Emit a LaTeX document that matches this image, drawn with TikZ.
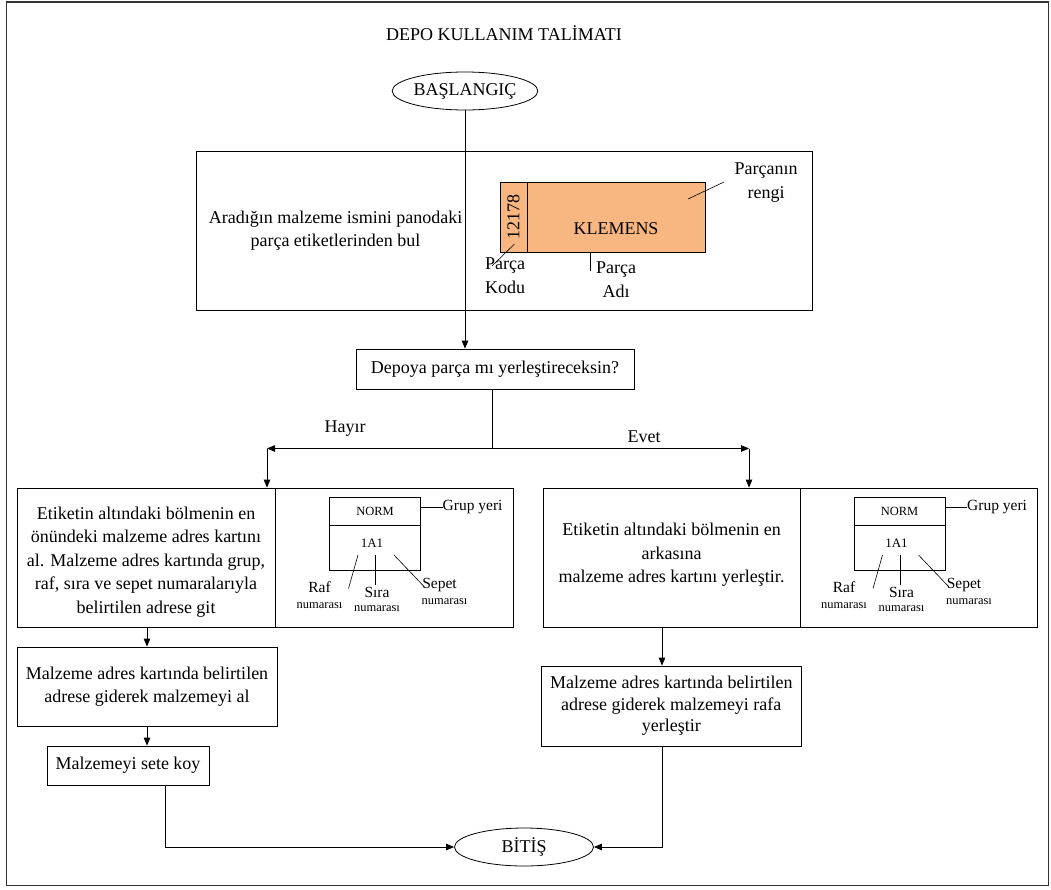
\documentclass[tikz,border=0pt]{standalone}
\usepackage{fontspec}
\setmainfont{Liberation Serif}
\usetikzlibrary{arrows.meta,shapes.geometric,calc}
\definecolor{labelorange}{RGB}{248,182,128}
\begin{document}
\begin{tikzpicture}[x=1pt,y=-1pt,
  every node/.style={font=\fontsize{18}{23.5}\selectfont, inner sep=0pt},
  frame/.style={draw, line width=0.8pt},
  lead/.style={draw, line width=0.6pt},
  conn/.style={draw, line width=0.8pt},
  arr/.style={draw, line width=0.8pt, -{Triangle[length=8pt,width=6.5pt]}},
  small/.style={font=\fontsize{12.5}{14}\selectfont},
  mid/.style={font=\fontsize{15.5}{17}\selectfont},
]
\useasboundingbox (0,0) rectangle (1051,889);
\draw[line width=1.3pt, black!80] (6.5,2) rectangle (1048.5,885.5);

\node (title) at (504,33) {DEPO KULLANIM TALİMATI};
\node[frame, ellipse, minimum width=141pt, minimum height=38pt] (start) at (465,91) {BAŞLANGIÇ};

% panel with part label
\node[frame, minimum width=616pt, minimum height=159pt] (panel) at (504,230.5) {};
\node[align=center] (find) at (335.5,230.5) {Aradığın malzeme ismini panodaki\\parça etiketlerinden bul};
\node[frame, fill=labelorange, minimum width=205pt, minimum height=70pt] (label) at (602.5,217) {};
\node[frame, fill=labelorange, minimum width=27pt, minimum height=70pt, anchor=west] (code) at (label.west) {};
\node[rotate=90] (codetxt) at (code.center) {12178};
\node (klemens) at (616,229) {KLEMENS};
\node[align=center] (renk) at (766,182.5) {Parçanın\\rengi};
\coordinate (rk1) at (724,182);
\coordinate (rk2) at (688,199);
\draw[lead] (rk1) -- (rk2);
\node[align=center] (kodu) at (505,275.5) {Parça\\Kodu};
\coordinate (kd1) at (514.5,244);
\coordinate (kd2) at (492,266);
\draw[lead] (kd1) -- (kd2);
\node[align=center] (adi) at (616,279.5) {Parça\\Adı};
\coordinate (ad1) at (590,252);
\coordinate (ad2) at (590,271);
\draw[lead] (ad1) -- (ad2);

% question
\node[frame, minimum width=278pt, minimum height=40pt] (q) at (495,369) {Depoya parça mı yerleştireceksin?};
\draw[arr] (start.south) -- (start.south |- q.north);

% branch
\coordinate (b0) at (492,448.5);
\coordinate (bl) at (267,448.5);
\coordinate (br) at (749,448.5);
\draw[conn] (b0 |- q.south) -- (b0);
\draw[arr] (b0) -- (bl);
\draw[arr] (b0) -- (br);
\node (hayir) at (345,429) {Hayır};
\node (evet) at (644,437) {Evet};

% left big box
\node[frame, minimum width=258pt, minimum height=139pt] (L) at (146,557.5) {};
\node[frame, minimum width=238pt, minimum height=139pt] (Limg) at (394,557.5) {};
\node[align=center] (Ltxt) at (146,562) {Etiketin altındaki bölmenin en\\önündeki malzeme adres kartını\\al. Malzeme adres kartında grup,\\raf, sıra ve sepet numaralarıyla\\belirtilen adrese git};

% right big box
\node[frame, minimum width=257pt, minimum height=139pt] (R) at (671.5,557.5) {};
\node[frame, minimum width=237pt, minimum height=139pt] (Rimg) at (918.5,557.5) {};
\node[align=center] (Rtxt) at (671.5,555) {Etiketin altındaki bölmenin en\\arkasına\\malzeme adres kartını yerleştir.};

\draw[arr] (bl) -- (bl |- L.north);
\draw[arr] (br) -- (br |- R.north);

% address cards
\foreach \cx/\n in {375/a, 899.5/b} {
  \node[frame, line width=0.6pt, small, minimum width=91pt, minimum height=28pt] (norm\n) at (\cx,511) {NORM};
  \node[frame, line width=0.6pt, minimum width=91pt, minimum height=45pt] (addr\n) at (\cx,547.5) {};
  \node[font=\fontsize{13}{15}\selectfont] (aa\n) at (\cx-3,543) {1A1};
  \node[mid, anchor=west] (grup\n) at (\cx+67.5,507) {Grup yeri};
  \draw[lead] (norm\n.east |- grup\n.west) -- (grup\n.west);
  \node[mid] (raf\n) at (\cx-55.5,587) {Raf};
  \node[small] (rafn\n) at (\cx-55.5,606) {numarası};
  \draw[lead] (\cx-17,555) -- (\cx-26.5,588.5);
  \node[mid] (sira\n) at (\cx+2,592) {Sıra};
  \node[small] (siran\n) at (\cx+2,609) {numarası};
  \draw[lead] (\cx+0.5,555) -- (\cx+0.5,585);
  \node[mid] (sep\n) at (\cx+64.5,585) {Sepet};
  \node[small] (sepn\n) at (\cx+69.5,602) {numarası};
  \draw[lead] (\cx+19,555) -- (\cx+49.5,587);
}

% lower boxes
\node[frame, minimum width=260pt, minimum height=79pt, align=center] (get) at (147,686.5) {Malzeme adres kartında belirtilen\\adrese giderek malzemeyi al};
\node[frame, minimum width=162pt, minimum height=39pt] (set) at (128,765.5) {Malzemeyi sete koy};
\node[frame, minimum width=259.5pt, minimum height=80pt, align=center, font=\fontsize{18}{21.5}\selectfont] (put) at (671.25,706) {Malzeme adres kartında belirtilen\\adrese giderek malzemeyi rafa\\yerleştir};
\node[frame, ellipse, minimum width=139pt, minimum height=38pt] (end) at (524,847) {BİTİŞ};

\draw[arr] (get.north |- L.south) -- (get.north);
\draw[arr] (get.south) -- (get.south |- set.north);
\coordinate (sx) at (165.5,0);
\draw[arr] (sx |- set.south) |- (end.west);
\coordinate (rx) at (662,0);
\draw[arr] (rx |- R.south) -- (rx |- put.north);
\draw[arr] (rx |- put.south) |- (end.east);
\end{tikzpicture}
\end{document}
